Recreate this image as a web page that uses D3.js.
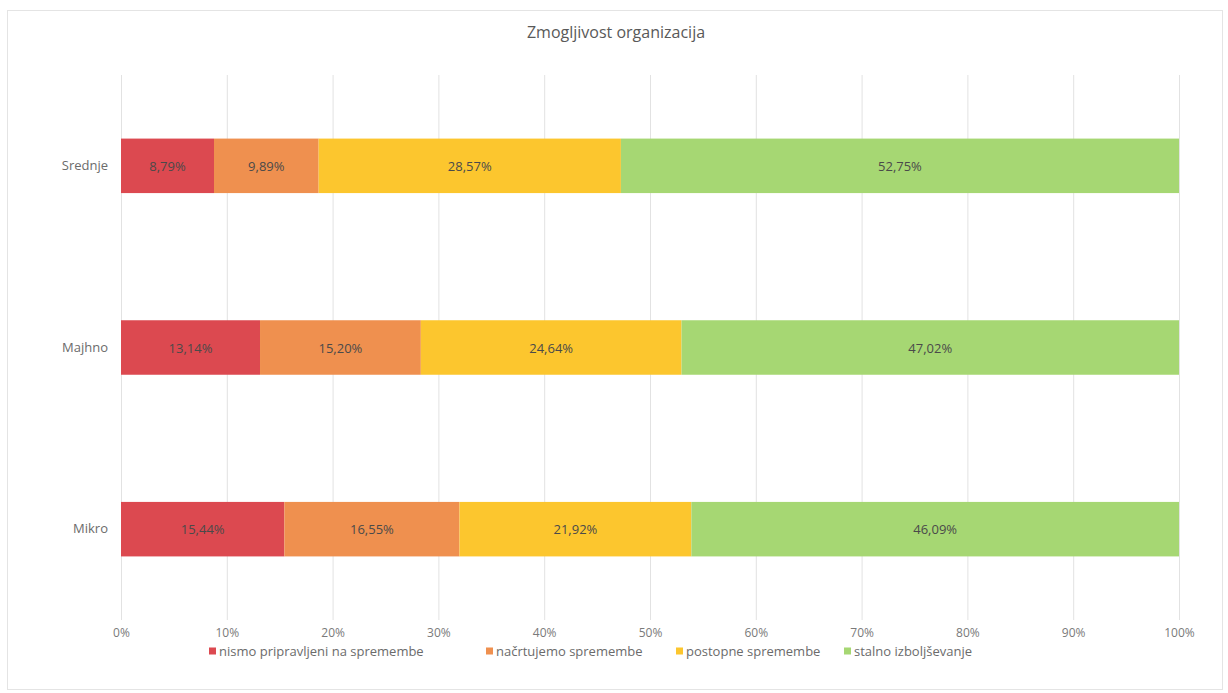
<!DOCTYPE html>
<html>
<head>
<meta charset="utf-8">
<script src="https://cdn.jsdelivr.net/npm/d3@7"></script>
<style>
  html, body { margin: 0; padding: 0; background: #ffffff; }
  svg { display: block; font-family: "Open Sans", "Liberation Sans", sans-serif; }
</style>
</head>
<body>
<svg id="chart" width="1228" height="693"></svg>
<script>
// Company size categories, top to bottom
const categories = ["Srednje", "Majhno", "Mikro"];

// Series names (legend order)
const seriesNames = [
  "nismo pripravljeni na spremembe",
  "načrtujemo spremembe",
  "postopne spremembe",
  "stalno izboljševanje"
];

// Percentages per category, in series order
const srednje = [8.79, 9.89, 28.57, 52.75];
const majhno  = [13.14, 15.20, 24.64, 47.02];
const mikro   = [15.44, 16.55, 21.92, 46.09];

const seriesColors = ["#dc4950", "#ef904f", "#fcc62e", "#a6d773"];
const xTicks = [0, 10, 20, 30, 40, 50, 60, 70, 80, 90, 100];
const title = "Zmogljivost organizacija";

const valuesByCategory = { "Srednje": srednje, "Majhno": majhno, "Mikro": mikro };

const rows = categories.map(c => {
  const row = { category: c };
  seriesNames.forEach((s, i) => { row[s] = valuesByCategory[c][i]; });
  return row;
});

const svg = d3.select("#chart");

// chart frame
svg.append("rect")
  .attr("x", 7.5).attr("y", 10.5)
  .attr("width", 1215).attr("height", 679)
  .attr("fill", "#ffffff")
  .attr("stroke", "#e4e4e4");

const plot = { left: 121, right: 1179, top: 75, bottom: 620 };

const x = d3.scaleLinear().domain([0, 100]).range([plot.left, plot.right]);
const y = d3.scaleBand().domain(categories).range([plot.top, plot.bottom])
  .paddingInner(0.7).paddingOuter(0.35);

// vertical gridlines
svg.append("g").selectAll("line").data(xTicks).join("line")
  .attr("x1", d => x(d) + 0.5).attr("x2", d => x(d) + 0.5)
  .attr("y1", plot.top).attr("y2", plot.bottom)
  .attr("stroke", "#e2e2e2").attr("stroke-width", 1);

// x axis labels
const xAxis = d3.axisBottom(x).tickValues(xTicks).tickFormat(d => d + "%").tickSize(0).tickPadding(7);
const gx = svg.append("g").attr("transform", `translate(0,${plot.bottom + 1})`).call(xAxis);
gx.select(".domain").remove();
gx.selectAll("text").attr("fill", "#7a7a7a")
  .style("font-family", "'Open Sans', sans-serif").style("font-size", "12px");

// category labels
const yAxis = d3.axisLeft(y).tickSize(0).tickPadding(13);
const gy = svg.append("g").attr("transform", `translate(${plot.left},0)`).call(yAxis);
gy.select(".domain").remove();
gy.selectAll("text").attr("fill", "#6b6b6b")
  .style("font-family", "'Open Sans', sans-serif").style("font-size", "13px");

// stacked bars
const stacked = d3.stack().keys(seriesNames)(rows);
const color = d3.scaleOrdinal().domain(seriesNames).range(seriesColors);
const fmt = v => v.toFixed(2).replace(".", ",") + "%";

const layers = svg.append("g").selectAll("g").data(stacked).join("g")
  .attr("fill", d => color(d.key));

layers.selectAll("rect").data(d => d).join("rect")
  .attr("x", d => x(d[0]))
  .attr("y", d => y(d.data.category))
  .attr("width", d => x(d[1]) - x(d[0]))
  .attr("height", y.bandwidth());

// value labels
const labels = svg.append("g");
stacked.forEach(layer => {
  labels.selectAll(null).data(layer).join("text")
    .attr("x", d => (x(d[0]) + x(d[1])) / 2)
    .attr("y", d => y(d.data.category) + y.bandwidth() / 2)
    .attr("text-anchor", "middle")
    .attr("dominant-baseline", "central")
    .attr("fill", "#4a4a4a")
    .style("font-size", "13px")
    .text(d => fmt(d.data[layer.key]));
});

// title
svg.append("text")
  .attr("x", 616).attr("y", 38)
  .attr("text-anchor", "middle")
  .attr("fill", "#595959")
  .style("font-size", "16px")
  .text(title);

// legend
const legendX = [209, 486, 676, 844];
const legend = svg.append("g");
seriesNames.forEach((s, i) => {
  const g = legend.append("g").attr("transform", `translate(${legendX[i]},651)`);
  g.append("rect").attr("x", 0).attr("y", -3.5).attr("width", 7).attr("height", 7).attr("fill", seriesColors[i]);
  g.append("text").attr("x", 10).attr("y", 0)
    .attr("dominant-baseline", "central")
    .attr("fill", "#6b6b6b")
    .style("font-size", "13px")
    .text(s);
});
</script>
</body>
</html>
